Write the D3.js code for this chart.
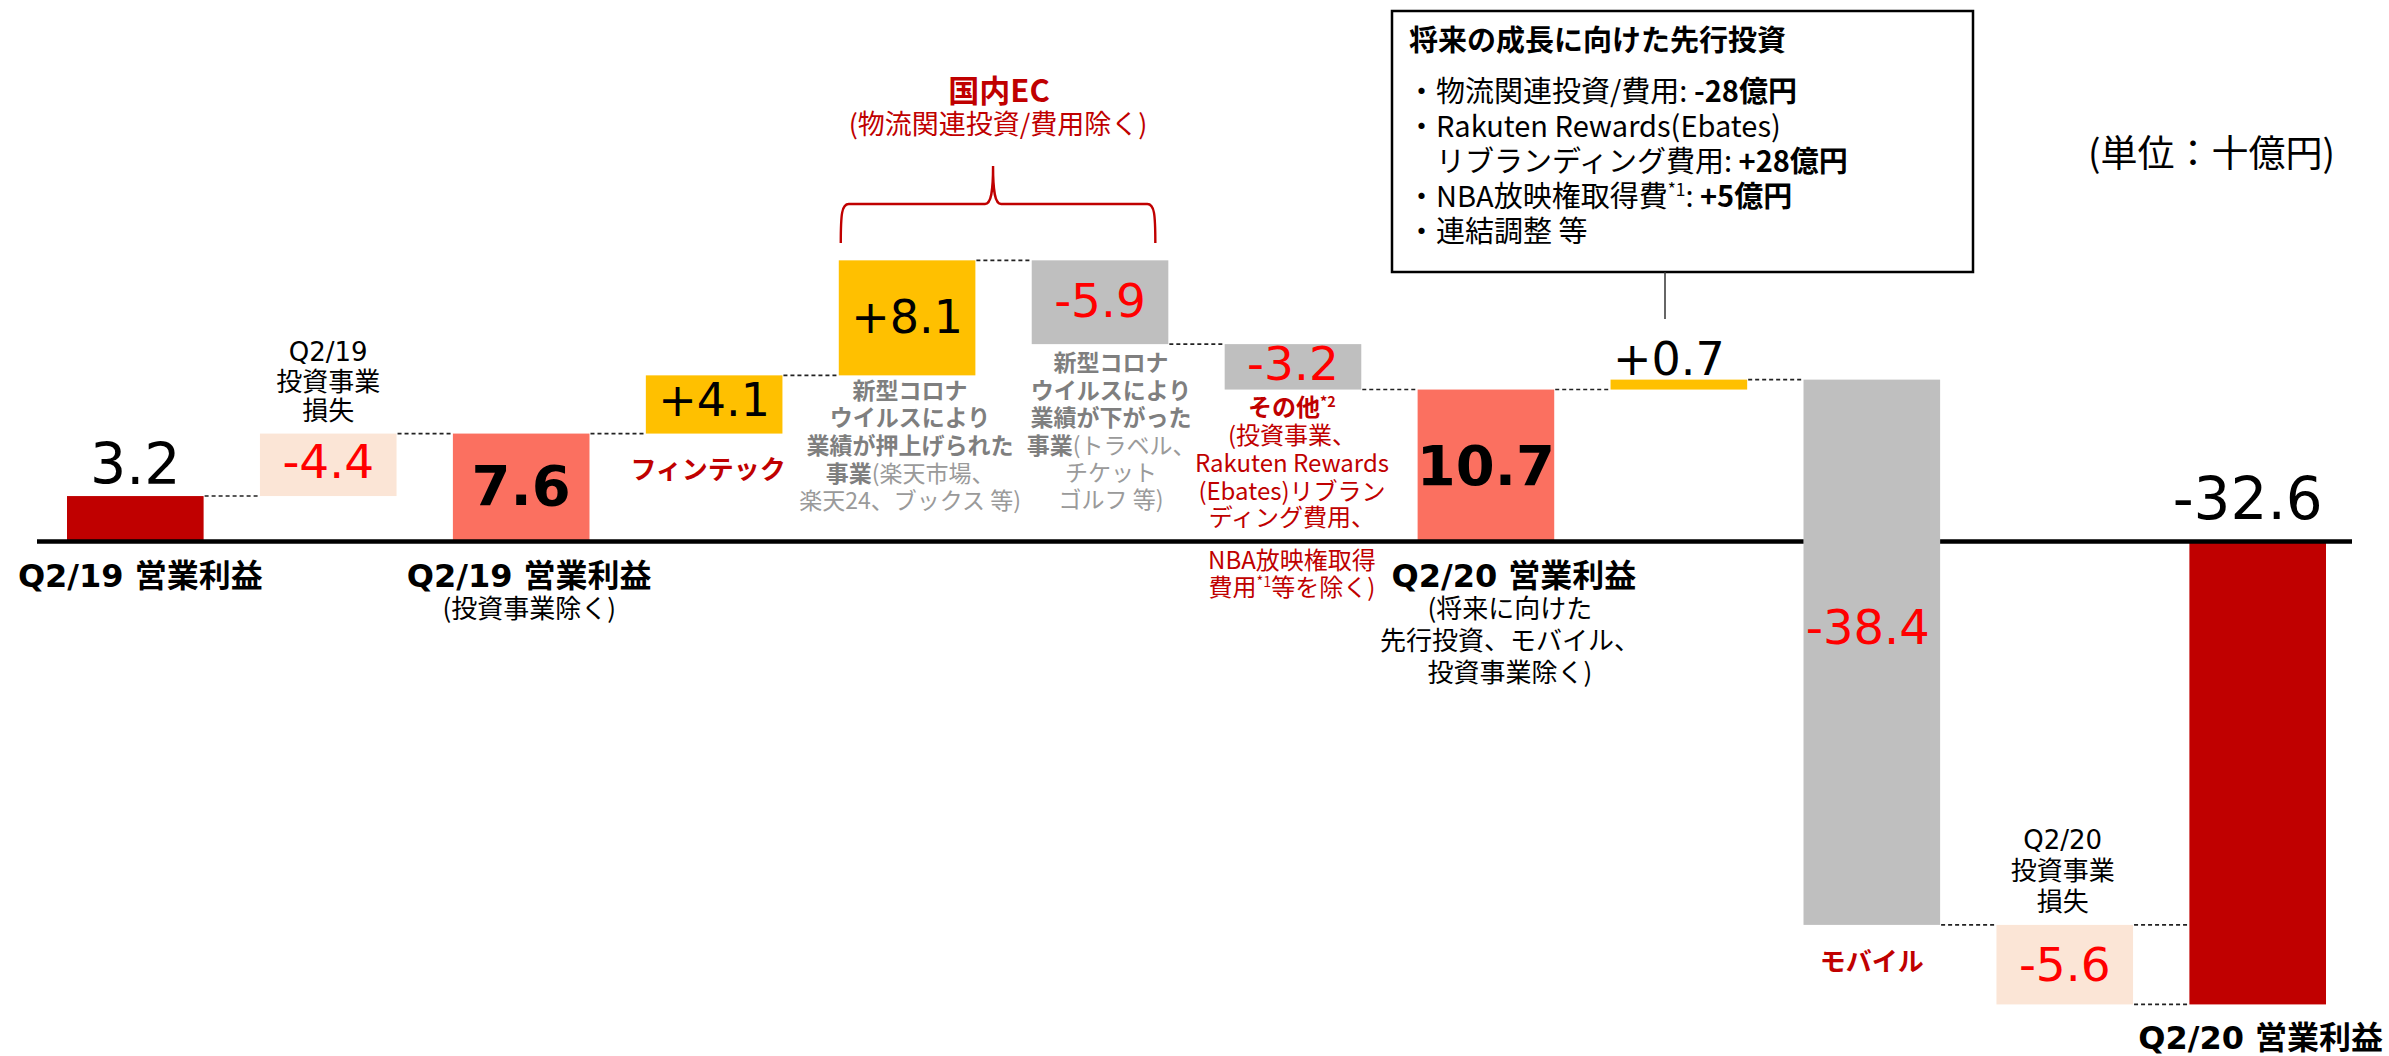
<!DOCTYPE html>
<html>
<head>
<meta charset="utf-8">
<script src="https://cdn.jsdelivr.net/npm/d3@7"></script>
<style>
  html, body { margin: 0; padding: 0; background: #fff; }
  svg { display: block; }
</style>
</head>
<body>
<svg id="chart" width="2389" height="1056"></svg>
<script>
// ---------------- DATA ----------------
const categories = [
  "Q2/19 営業利益",
  "Q2/19 投資事業損失",
  "Q2/19 営業利益(投資事業除く)",
  "フィンテック",
  "国内EC 押上げ",
  "国内EC 下落",
  "その他",
  "Q2/20 営業利益(除く)",
  "将来の成長に向けた先行投資",
  "モバイル",
  "Q2/20 投資事業損失",
  "Q2/20 営業利益"
];
const values = [3.2, -4.4, 7.6, 4.1, 8.1, -5.9, -3.2, 10.7, 0.7, -38.4, -5.6, -32.6];
// how each bar enters the waterfall
const barKinds = ["total", "addback", "subtotal", "step", "step", "step", "step", "subtotal", "step", "step", "step", "total"];
const colorGroups = ["total", "loss", "subtotal", "gain", "gain", "drop", "drop", "subtotal", "gain", "drop", "loss", "total"];
const valueLabels = ["3.2", "-4.4", "7.6", "+4.1", "+8.1", "-5.9", "-3.2", "10.7", "+0.7", "-38.4", "-5.6", "-32.6"];

const boxTitle = "将来の成長に向けた先行投資";
const boxItems = [
  [{t: "・物流関連投資/費用: "}, {t: "-28億円", b: true}],
  [{t: "・Rakuten Rewards(Ebates)"}],
  [{t: "　リブランディング費用: "}, {t: "+28億円", b: true}],
  [{t: "・NBA放映権取得費"}, {t: "*1", sup: true}, {t: ": ", after: true}, {t: "+5億円", b: true}],
  [{t: "・連結調整 等"}]
];
const unitLabel = "(単位：十億円)";

// ---------------- STYLE ----------------
const COLORS = {
  total: "#C00000", subtotal: "#FB7060", loss: "#FBE5D6",
  gain: "#FFC000", drop: "#BFBFBF"
};
const RED = "#C00000";
const NUMRED = "#FF0000";
const JP = "'Noto Sans CJK JP', 'Noto Sans', sans-serif";
const NUM = "'DejaVu Sans', 'Noto Sans CJK JP', sans-serif";

const svg = d3.select("#chart");

// ---------------- SCALES ----------------
const x = d3.scaleBand().domain(categories).range([67, 2326]).paddingInner(0.292).paddingOuter(0);
const bw = x.bandwidth();
const y = d3.scaleLinear().domain([-35, 22]).range([541.5 + 35 * 14.2, 541.5 - 22 * 14.2]);

// waterfall computation
let running = 0;
const bars = categories.map((c, i) => {
  const v = values[i];
  let a, b;
  if (barKinds[i] === "total" || barKinds[i] === "subtotal") { a = 0; b = v; running = v; }
  else if (barKinds[i] === "addback") { a = running; b = running - v; running = b; }
  else { a = running; b = running + v; running = b; }
  return {cat: c, i, v, a, b, end: running};
});

// ---------------- BARS ----------------
svg.append("g").selectAll("rect").data(bars).join("rect")
  .attr("x", d => x(d.cat))
  .attr("width", bw)
  .attr("y", d => y(Math.max(d.a, d.b)))
  .attr("height", d => Math.abs(y(d.a) - y(d.b)))
  .attr("fill", d => COLORS[colorGroups[d.i]]);

// baseline (axis at zero), interrupted by the mobile bar
const mob = bars[9];
svg.append("line").attr("x1", 37).attr("x2", x(mob.cat)).attr("y1", y(0)).attr("y2", y(0))
  .attr("stroke", "#000").attr("stroke-width", 4.6);
svg.append("line").attr("x1", x(mob.cat) + bw).attr("x2", 2352).attr("y1", y(0)).attr("y2", y(0))
  .attr("stroke", "#000").attr("stroke-width", 4.6);

// ---------------- CONNECTORS ----------------
const conn = [];
for (let i = 0; i < bars.length - 1; i++) {
  conn.push({x1: x(bars[i].cat) + bw, x2: x(bars[i + 1].cat), v: bars[i].end});
}
// extra connector at the top of the Q2/20 investment-loss bar
conn.push({x1: x(bars[10].cat) + bw, x2: x(bars[11].cat), v: bars[10].a});
svg.append("g").selectAll("line").data(conn).join("line")
  .attr("x1", d => d.x1 + 1).attr("x2", d => d.x2 - 1)
  .attr("y1", d => y(d.v)).attr("y2", d => y(d.v))
  .attr("stroke", "#222").attr("stroke-width", 1.6).attr("stroke-dasharray", "4,3");

// ---------------- VALUE LABELS ----------------
const labelLayout = [
  {size: 57, color: "#000", mode: "above", dy: -12},
  {size: 47, color: NUMRED, mode: "mid", dy: 13},
  {size: 56, color: "#000", mode: "mid", dy: 17.5, bold: true},
  {size: 46, color: "#000", mode: "mid", dy: 12},
  {size: 46, color: "#000", mode: "mid", dy: 15},
  {size: 47, color: NUMRED, mode: "mid", dy: 15},
  {size: 47, color: NUMRED, mode: "mid", dy: 13},
  {size: 56, color: "#000", mode: "mid", dy: 19.5, bold: true},
  {size: 46, color: "#000", mode: "above", dy: -5, dx: -10},
  {size: 48, color: NUMRED, mode: "mid", dy: -8, dx: -4},
  {size: 47, color: NUMRED, mode: "mid", dy: 16},
  {size: 58, color: "#000", mode: "zero", dy: -22.5, dx: -10}
];
svg.append("g").selectAll("text").data(bars).join("text")
  .attr("x", d => x(d.cat) + bw / 2 + (labelLayout[d.i].dx || 0))
  .attr("y", d => {
    const L = labelLayout[d.i];
    const top = y(Math.max(d.a, d.b)), bot = y(Math.min(d.a, d.b));
    if (L.mode === "above") return top + L.dy;
    if (L.mode === "zero") return y(0) + L.dy;
    return (top + bot) / 2 + L.dy;
  })
  .attr("text-anchor", "middle")
  .attr("font-family", NUM)
  .attr("font-size", d => labelLayout[d.i].size)
  .attr("font-weight", d => labelLayout[d.i].bold ? "bold" : "normal")
  .attr("fill", d => labelLayout[d.i].color)
  .text(d => valueLabels[d.i]);

// ---------------- TEXT HELPER (one <text> per block, one <tspan> per line) ----------------
function multiLine(cx, baselines, lines, opts) {
  const t = svg.append("text")
    .attr("text-anchor", opts.anchor || "middle")
    .attr("font-family", opts.family || JP)
    .attr("font-size", opts.size)
    .attr("fill", opts.color || "#000")
    .attr("font-weight", opts.bold ? "bold" : "normal");
  lines.forEach((line, k) => {
    const segs = Array.isArray(line) ? line : [{t: line}];
    const ln = t.append("tspan").attr("x", cx).attr("y", baselines[k]);
    segs.forEach(s => {
      const ts = ln.append("tspan").text(s.t);
      const w = (s.b !== undefined) ? s.b : (opts.bold || false);
      ts.attr("font-weight", w ? "bold" : "normal");
      if (s.color) ts.attr("fill", s.color);
      if (s.sup) ts.attr("font-size", opts.size * 0.6).attr("dy", -opts.size * 0.38);
      if (s.after) ts.attr("dy", opts.size * 0.38);
    });
  });
  return t;
}
const cx = i => x(categories[i]) + bw / 2;

// ---------------- AXIS LABELS ----------------
const AX = "'DejaVu Sans', 'Noto Sans CJK JP', sans-serif";
multiLine(cx(0) + 5, [587], ["Q2/19 営業利益"], {size: 32, bold: true, family: AX});
multiLine(cx(2) + 8, [587], ["Q2/19 営業利益"], {size: 32, bold: true, family: AX});
multiLine(cx(2) + 8, [618], ["(投資事業除く)"], {size: 26});
multiLine(cx(7) + 28, [587], ["Q2/20 営業利益"], {size: 32, bold: true, family: AX});
multiLine(cx(7) + 24, [618, 650, 682], ["(将来に向けた", "先行投資、モバイル、", "投資事業除く)"], {size: 26});
multiLine(cx(11) + 3, [1049], ["Q2/20 営業利益"], {size: 32, bold: true, family: AX});

// ---------------- CATEGORY ANNOTATIONS ----------------
multiLine(cx(1), [361, 391, 420], ["Q2/19", "投資事業", "損失"], {size: 26, family: AX});
multiLine(cx(10) - 2, [849, 880, 911], ["Q2/20", "投資事業", "損失"], {size: 26, family: AX});
multiLine(cx(3) - 6, [479], ["フィンテック"], {size: 26, bold: true, color: RED});
multiLine(cx(9), [971], ["モバイル"], {size: 26, bold: true, color: RED});

const G1 = "#7F7F7F", G2 = "#9A9A9A";
multiLine(cx(4) + 3, [399, 426, 454, 482, 509], [
  [{t: "新型コロナ", b: true}],
  [{t: "ウイルスにより", b: true}],
  [{t: "業績が押上げられた", b: true}],
  [{t: "事業", b: true, color: G1}, {t: "(楽天市場、", b: false, color: G2}],
  [{t: "楽天24、ブックス 等)", b: false, color: G2}]
], {size: 23, color: G1});
multiLine(cx(5) + 11, [371, 399, 426, 454, 481, 508], [
  [{t: "新型コロナ", b: true}],
  [{t: "ウイルスにより", b: true}],
  [{t: "業績が下がった", b: true}],
  [{t: "事業", b: true, color: G1}, {t: "(トラベル、", b: false, color: G2}],
  [{t: "チケット", b: false, color: G2}],
  [{t: "ゴルフ 等)", b: false, color: G2}]
], {size: 23, color: G1});

multiLine(cx(6) - 1, [416, 444, 472, 500, 526, 569, 596], [
  [{t: "その他", b: true}, {t: "*2", b: true, sup: true}],
  "(投資事業、",
  "Rakuten Rewards",
  "(Ebates)リブラン",
  "ディング費用、",
  "NBA放映権取得",
  [{t: "費用"}, {t: "*1", sup: true}, {t: "等を除く)", after: true}]
], {size: 24, color: RED});

// ---------------- 国内EC BRACE ----------------
const bl = x(categories[4]) + 2, br = x(categories[5]) + bw - 13;
const bm = (bl + br) / 2 - 5;
const yb = 243, yh = 204, yt = 166;
svg.append("path")
  .attr("d", `M${bl},${yb} C${bl},${yh + 10} ${bl + 1},${yh} ${bl + 8},${yh} L${bm - 8},${yh} C${bm - 2},${yh} ${bm},${yh - 12} ${bm},${yt} C${bm},${yh - 12} ${bm + 2},${yh} ${bm + 8},${yh} L${br - 8},${yh} C${br - 1},${yh} ${br},${yh + 10} ${br},${yb}`)
  .attr("fill", "none").attr("stroke", RED).attr("stroke-width", 2.4);
multiLine(bm + 6, [102], ["国内EC"], {size: 31, bold: true, color: RED});
multiLine(bm + 5, [134], ["(物流関連投資/費用除く)"], {size: 27, color: RED});

// ---------------- INVESTMENT BOX ----------------
svg.append("rect").attr("x", 1392).attr("y", 11).attr("width", 581).attr("height", 261)
  .attr("fill", "#fff").attr("stroke", "#000").attr("stroke-width", 2.5);
svg.append("line").attr("x1", 1665).attr("x2", 1665).attr("y1", 272).attr("y2", 319)
  .attr("stroke", "#333").attr("stroke-width", 1.5);
multiLine(1409, [51], [boxTitle], {size: 29, bold: true, anchor: "start"});
multiLine(1407, boxItems.map((_, k) => 102 + k * 35), boxItems, {size: 29, anchor: "start"});

// ---------------- UNIT ----------------
multiLine(2335, [167], [unitLabel], {size: 37, anchor: "end"});
</script>
</body>
</html>
